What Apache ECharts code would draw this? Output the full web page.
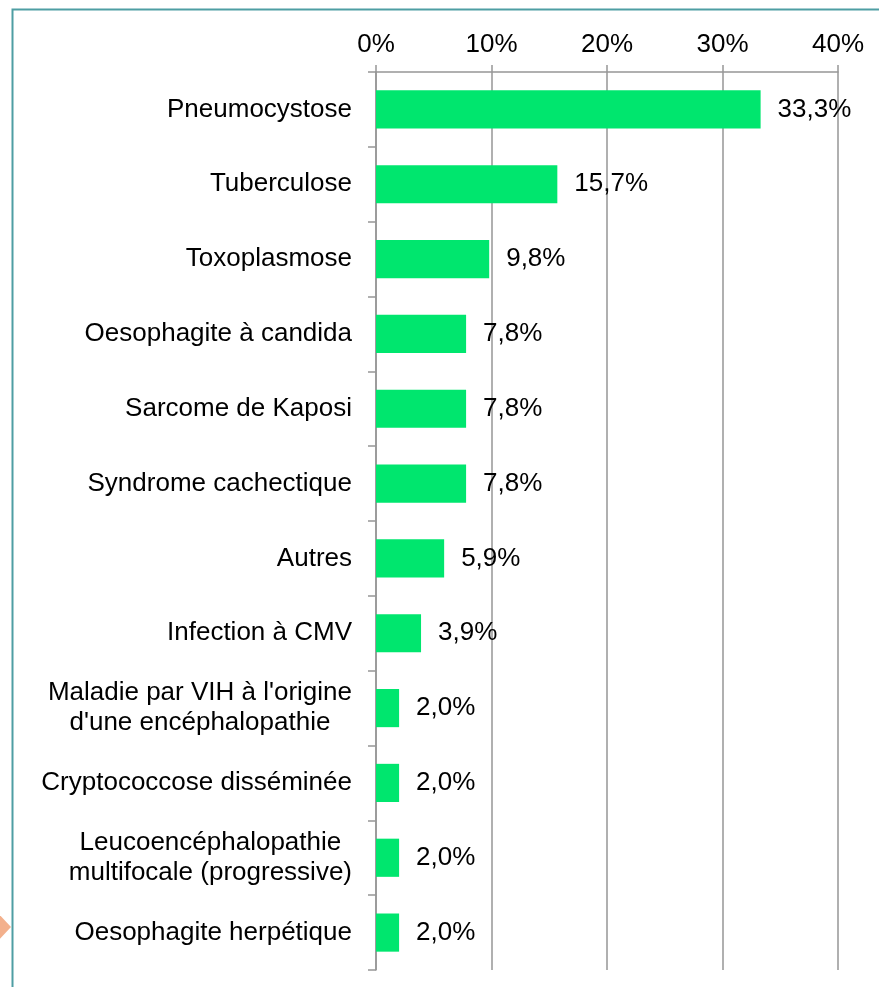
<!DOCTYPE html>
<html>
<head>
    <meta http-equiv="content-type" content="text/html;charset=utf-8" />
    <title>Infections opportunistes</title>
    <script src="https://cdn.jsdelivr.net/npm/echarts@6/dist/echarts.min.js"></script>
    <style type="text/css">
        * { margin: 0; padding: 0 }
        html, body { background: #fff; }
        #chart { width: 879px; height: 987px; }
    </style>
</head>
<body>
<div id="chart"></div>
<script>
    // categories, top to bottom
    var categories = [
        "Pneumocystose",
        "Tuberculose",
        "Toxoplasmose",
        "Oesophagite à candida",
        "Sarcome de Kaposi",
        "Syndrome cachectique",
        "Autres",
        "Infection à CMV",
        "Maladie par VIH à l'origine\nd'une encéphalopathie",
        "Cryptococcose disséminée",
        "Leucoencéphalopathie\nmultifocale (progressive)",
        "Oesophagite herpétique"
    ];
    // percent values
    var values = [33.3, 15.7, 9.8, 7.8, 7.8, 7.8, 5.9, 3.9, 2.0, 2.0, 2.0, 2.0];
    var tickMax = 40;
    var tickStep = 10;

    var font = '"Liberation Sans", Arial, sans-serif';
    var fs = 26;
    var chart = echarts.init(document.getElementById("chart"));

    var option = {
        animation: false,
        backgroundColor: '#fff',
        grid: { left: 376, right: 41, top: 72, bottom: 17, containLabel: false },
        xAxis: {
            type: 'value',
            position: 'top',
            min: 0,
            max: tickMax,
            interval: tickStep,
            axisLine: { show: true, lineStyle: { color: '#969696', width: 1.5 } },
            axisTick: { show: true, length: 7, lineStyle: { color: '#969696', width: 1.5 } },
            splitLine: { show: true, lineStyle: { color: '#969696', width: 1.5 } },
            axisLabel: {
                margin: 14,
                color: '#000',
                fontSize: fs,
                fontFamily: font,
                formatter: function (v) { return v + '%'; }
            }
        },
        yAxis: {
            type: 'category',
            inverse: true,
            data: categories,
            axisLine: { show: true, lineStyle: { color: '#969696', width: 1.5 } },
            axisTick: { show: true, length: 8, lineStyle: { color: '#969696', width: 1.5 } },
            axisLabel: {
                margin: 24,
                color: '#000',
                fontSize: fs,
                fontFamily: font,
                lineHeight: 30,
                formatter: function (v) {
                    return v.split('\n').map(function (s) { return '{c|' + s + '}'; }).join('\n');
                },
                rich: {
                    c: { align: 'center', color: '#000', fontSize: fs, fontFamily: font, lineHeight: 30 }
                }
            }
        },
        series: [{
            type: 'bar',
            data: values,
            barWidth: '51%',
            itemStyle: { color: '#00e66e' },
            label: {
                show: true,
                position: 'right',
                distance: 17,
                color: '#000',
                fontSize: fs,
                fontFamily: font,
                formatter: function (p) { return p.value.toFixed(1).replace('.', ',') + '%'; }
            }
        }],
        graphic: [
            {
                type: 'rect',
                shape: { x: 12.5, y: 9.5, width: 900, height: 1000 },
                style: { fill: 'none', stroke: '#4e9ea3', lineWidth: 2 },
                silent: true
            },
            {
                type: 'polygon',
                shape: { points: [[-6, 909], [11, 927], [-6, 945]] },
                style: { fill: '#f3b08c' },
                silent: true
            }
        ]
    };
    chart.setOption(option);
</script>
</body>
</html>
